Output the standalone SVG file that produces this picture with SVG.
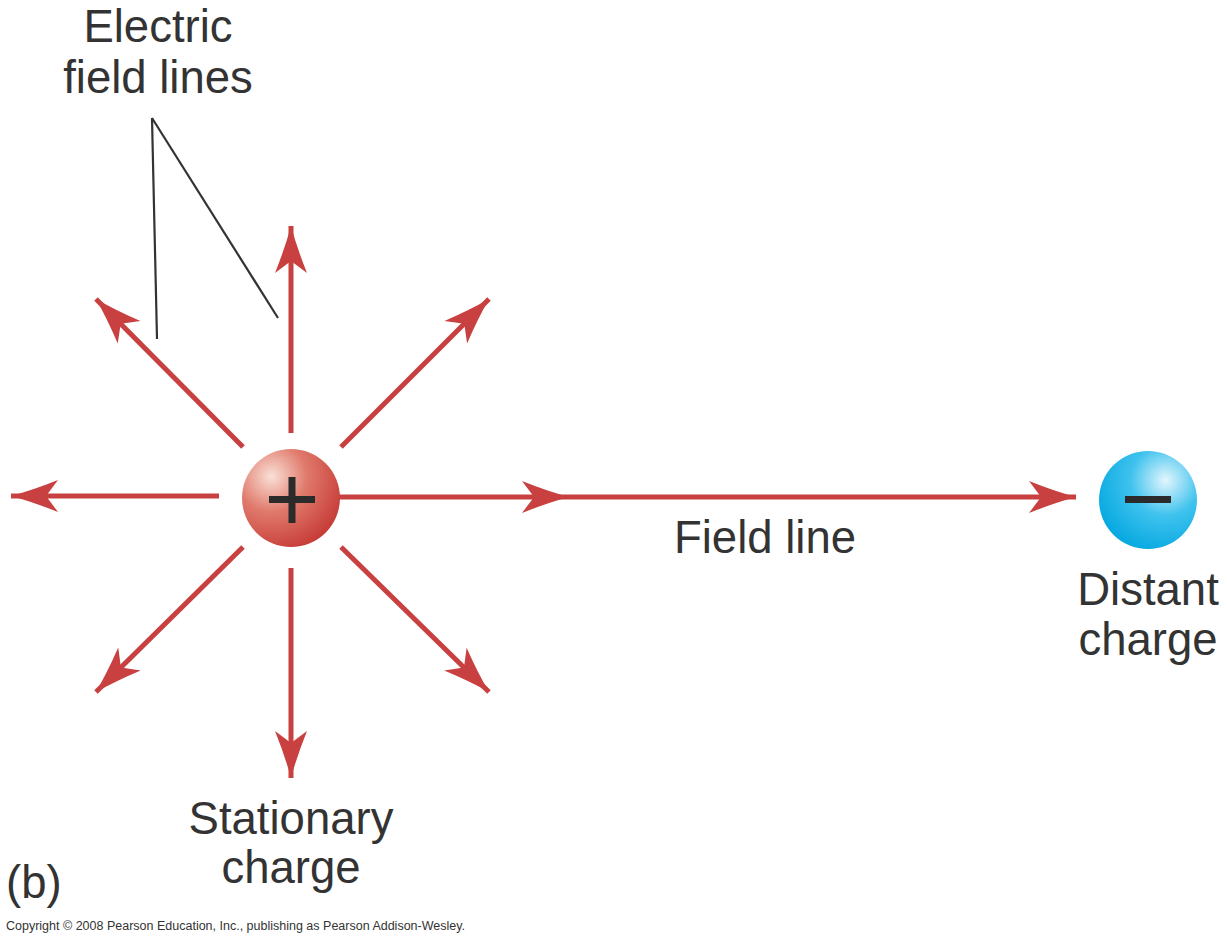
<svg xmlns="http://www.w3.org/2000/svg" width="1227" height="941" viewBox="0 0 1227 941">
<style>
.fl{stroke:#c8403f;stroke-width:5;fill:none}
.ah{fill:#c8403f}
.lead{stroke:#333;stroke-width:2.2;fill:none}
.t{font-family:"Liberation Sans",Arial,sans-serif;font-size:45.5px;fill:#333}
.sign{fill:#2b2b2b}
</style>
<defs>
<radialGradient id="gp" cx="0.3" cy="0.28" r="0.8">
<stop offset="0" stop-color="#fae0d6"/>
<stop offset="0.45" stop-color="#e07a6c"/>
<stop offset="1" stop-color="#c63a36"/>
</radialGradient>
<radialGradient id="gn" cx="0.68" cy="0.3" r="0.8">
<stop offset="0" stop-color="#e2f6fd"/>
<stop offset="0.45" stop-color="#3fc2ee"/>
<stop offset="1" stop-color="#00a6df"/>
</radialGradient>
<marker id="arr" markerUnits="userSpaceOnUse" markerWidth="60" markerHeight="40" refX="0" refY="0" viewBox="-50 -20 60 40" orient="auto" overflow="visible">
<path class="ah" d="M0,0 Q-22,-6 -47,-16 L-35,0 L-47,16 Q-22,6 0,0Z"/>
</marker>
</defs>
<g id="connectors">
<line class="fl" x1="291" y1="433" x2="291" y2="226" marker-end="url(#arr)"/>
<line class="fl" x1="291" y1="568" x2="291" y2="778" marker-end="url(#arr)"/>
<line class="fl" x1="219" y1="496" x2="11" y2="496" marker-end="url(#arr)"/>
<line class="fl" x1="243" y1="447" x2="96" y2="299" marker-end="url(#arr)"/>
<line class="fl" x1="341" y1="447" x2="489" y2="299" marker-end="url(#arr)"/>
<line class="fl" x1="243" y1="547" x2="96" y2="692" marker-end="url(#arr)"/>
<line class="fl" x1="341" y1="547" x2="489" y2="692" marker-end="url(#arr)"/>
<line class="fl" x1="338" y1="497" x2="1076" y2="497" marker-end="url(#arr)"/>
<path class="ah" transform="translate(569,497)" d="M0,0 Q-22,-6 -47,-16 L-35,0 L-47,16 Q-22,6 0,0Z"/>
<line class="lead" x1="152" y1="118" x2="157" y2="339"/>
<line class="lead" x1="152" y1="118" x2="278" y2="318"/>
</g>
<g id="stationary-charge">
<circle cx="291" cy="498" r="49" fill="url(#gp)"/>
<rect class="sign" x="269" y="496" width="46" height="7"/>
<rect class="sign" x="288.5" y="477" width="7" height="46"/>
</g>
<g id="distant-charge">
<circle cx="1148" cy="500" r="49" fill="url(#gn)"/>
<rect class="sign" x="1125" y="496" width="46" height="7"/>
</g>
<g id="labels">
<text class="t" x="158" y="42" text-anchor="middle">Electric</text>
<text class="t" x="158" y="93" text-anchor="middle">field lines</text>
<text class="t" x="765" y="553" text-anchor="middle">Field line</text>
<text class="t" x="1148" y="605" text-anchor="middle">Distant</text>
<text class="t" x="1148" y="655" text-anchor="middle">charge</text>
<text class="t" x="291" y="834" text-anchor="middle">Stationary</text>
<text class="t" x="291" y="883" text-anchor="middle">charge</text>
<text class="t" x="6" y="898">(b)</text>
<text x="6" y="930" font-family="'Liberation Sans',Arial,sans-serif" font-size="12.5" fill="#333">Copyright © 2008 Pearson Education, Inc., publishing as Pearson Addison-Wesley.</text>
</g>
</svg>
